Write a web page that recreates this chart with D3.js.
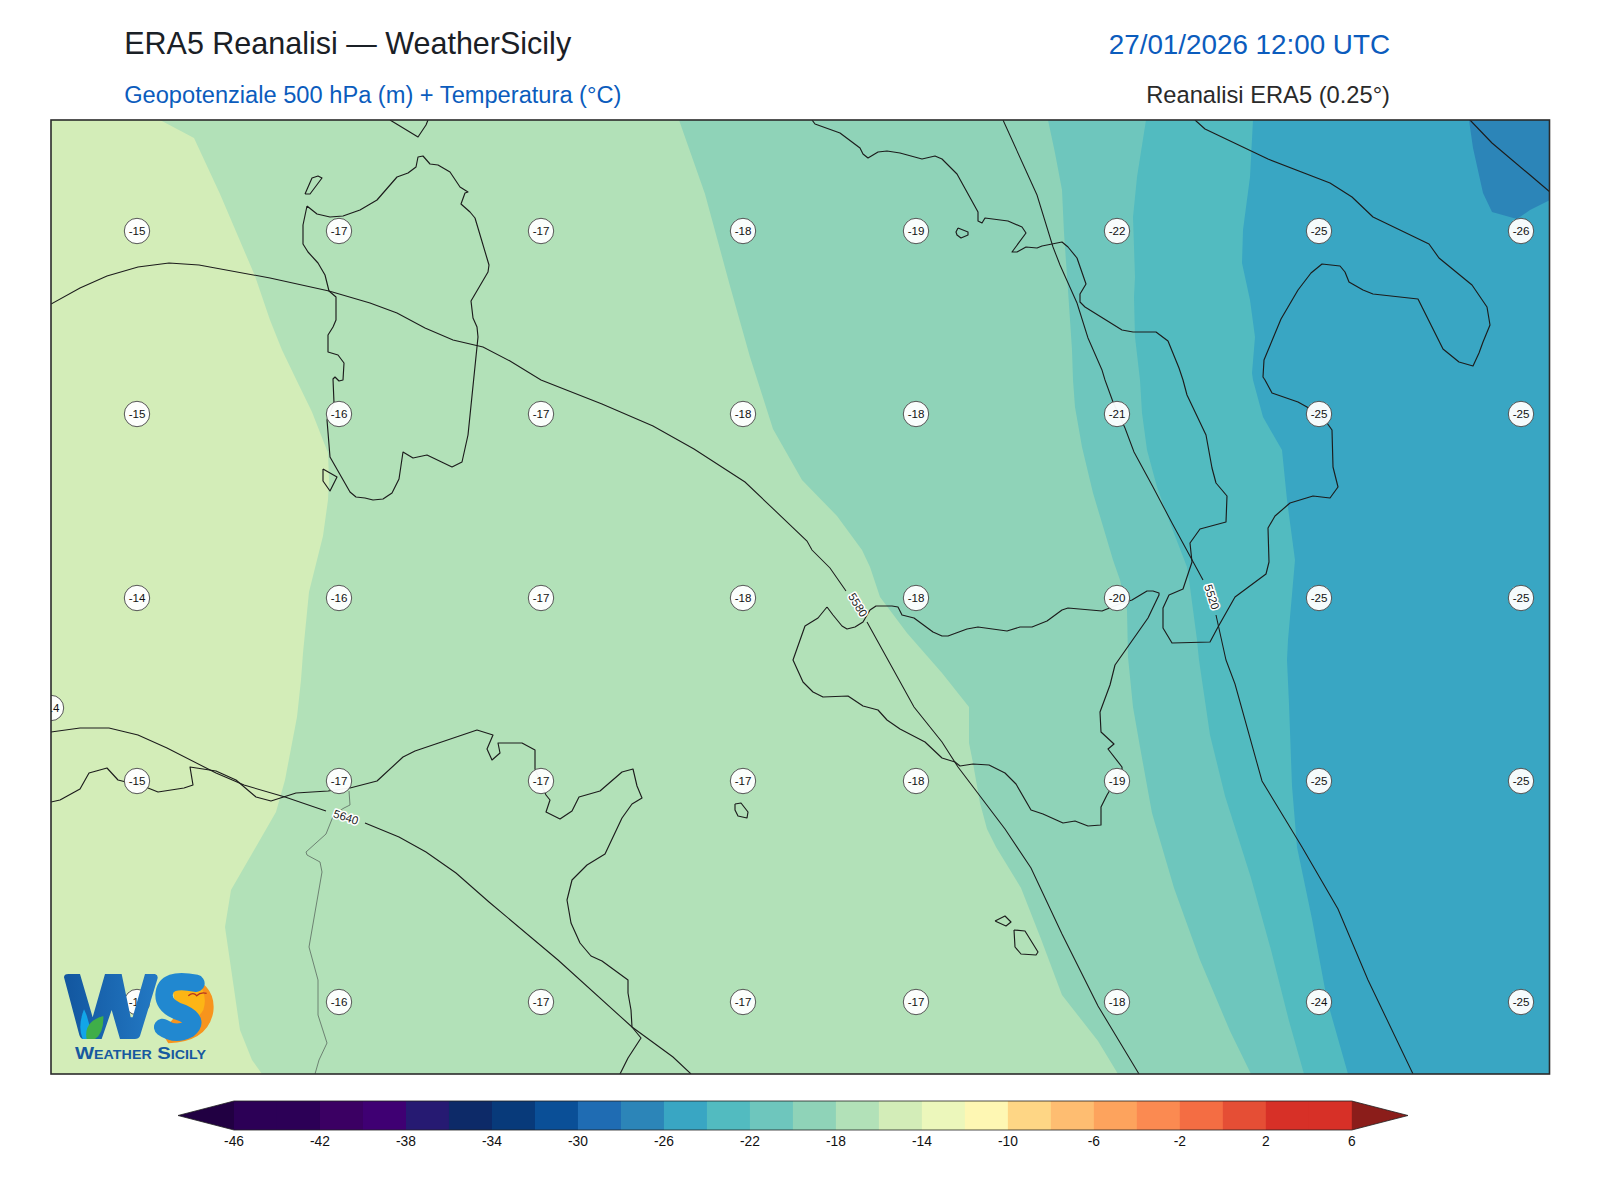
<!DOCTYPE html>
<html><head><meta charset="utf-8">
<script src="https://cdn.jsdelivr.net/npm/d3@7"></script>
<style>html,body{margin:0;background:#fff}svg{display:block}text{font-family:"Liberation Sans",Arial,sans-serif}</style>
</head><body><svg id="c" width="1600" height="1200"></svg>
<script>
// Colour levels
const levels = [-46,-44,-42,-40,-38,-36,-34,-32,-30,-28,-26,-24,-22,-20,-18,-16,-14,-12,-10,-8,-6,-4,-2,0,2,4,6];
const levelColors = ["#2c0056","#2c0056","#3b0063","#3f0073","#261a72","#0d2a68","#083a7a","#0a4f97","#1f6cb3","#2c85b8","#39a6c3","#52bbc0","#6ec6bd","#8fd3b8","#b2e1b8","#d3edb8","#ecf7bb","#fef7b3","#fed685","#febd71","#fda35d","#fb8a51","#f46d43","#e54e35","#d73027","#d73027"];
const colorTicks = [-46,-42,-38,-34,-30,-26,-22,-18,-14,-10,-6,-2,2,6];
// Isotherm band edges (west edge of each colder band)
const bandColors = ["#b2e1b8","#8fd3b8","#6ec6bd","#52bbc0","#39a6c3"];
const band16 = [[6.60,43.80],[6.94,43.62],[7.20,43.06],[7.55,42.24],[7.70,41.80],[7.82,41.50],[7.95,41.23],[8.12,40.88],[8.28,40.47],[8.29,40.20],[8.28,40.00],[8.23,39.64],[8.09,39.08],[8.03,38.47],[8.01,38.20],[7.97,37.83],[7.85,37.20],[7.76,36.88],[7.31,36.10],[7.25,35.73],[7.40,34.70],[7.52,34.40],[7.62,34.26]];
const band18 = [[11.79,43.80],[12.05,43.06],[12.30,42.14],[12.50,41.43],[12.73,40.71],[13.02,40.20],[13.37,39.84],[13.62,39.50],[13.70,39.33],[13.80,39.03],[14.07,38.67],[14.42,38.27],[14.69,37.93],[14.69,37.57],[14.73,37.37],[14.80,36.97],[14.87,36.71],[14.96,36.53],[15.21,36.12],[15.41,35.61],[15.62,35.05],[15.98,34.59],[16.18,34.26]];
const band20 = [[15.48,43.80],[15.55,43.47],[15.62,43.10],[15.64,42.67],[15.68,42.10],[15.72,41.50],[15.73,41.20],[15.75,40.93],[15.82,40.53],[15.93,40.07],[16.02,39.77],[16.13,39.40],[16.20,39.20],[16.27,38.90],[16.28,38.43],[16.33,37.93],[16.40,37.53],[16.52,36.87],[16.74,36.12],[17.00,35.40],[17.30,34.69],[17.51,34.26]];
const band22 = [[16.46,43.80],[16.37,43.23],[16.33,42.83],[16.35,42.23],[16.34,42.03],[16.35,41.63],[16.40,41.20],[16.42,40.87],[16.47,40.50],[16.57,40.13],[16.70,39.77],[16.87,39.33],[16.90,39.13],[16.97,38.60],[16.99,38.40],[17.10,37.65],[17.25,37.04],[17.51,36.22],[17.71,35.50],[17.89,34.79],[18.04,34.26]];
const band24 = [[17.53,43.80],[17.50,43.23],[17.43,42.70],[17.42,42.37],[17.50,42.00],[17.55,41.63],[17.52,41.27],[17.53,41.20],[17.63,40.83],[17.82,40.50],[17.87,40.00],[17.95,39.40],[17.88,38.60],[17.87,38.40],[17.89,37.96],[17.92,37.14],[17.97,36.53],[18.12,35.81],[18.27,35.00],[18.48,34.26]];
const band26 = [[19.69,43.80],[19.73,43.52],[19.83,43.07],[19.92,42.88],[20.17,42.81],[20.30,42.90],[20.50,43.00],[20.50,43.80]];
// Coastlines
const sardinia = [[8.07,42.94],[8.03,42.75],[8.03,42.56],[8.08,42.48],[8.18,42.37],[8.25,42.25],[8.29,42.09],[8.36,42.03],[8.36,41.80],[8.33,41.73],[8.28,41.65],[8.28,41.48],[8.38,41.45],[8.44,41.37],[8.43,41.20],[8.39,41.19],[8.35,41.23],[8.33,41.21],[8.34,40.97],[8.27,40.80],[8.30,40.43],[8.50,40.08],[8.56,40.03],[8.65,40.02],[8.73,40.00],[8.83,40.01],[8.92,40.07],[8.99,40.21],[9.03,40.48],[9.13,40.42],[9.27,40.45],[9.52,40.33],[9.62,40.38],[9.68,40.65],[9.78,41.63],[9.77,41.73],[9.73,41.82],[9.71,41.99],[9.88,42.28],[9.89,42.35],[9.75,42.82],[9.70,42.88],[9.61,42.96],[9.65,43.07],[9.68,43.08],[9.60,43.13],[9.50,43.28],[9.38,43.35],[9.30,43.36],[9.23,43.44],[9.18,43.43],[9.16,43.33],[9.08,43.27],[8.97,43.23],[8.77,43.00],[8.60,42.90],[8.43,42.84],[8.30,42.83],[8.17,42.86],[8.07,42.94]];
const asinara = [[8.05,43.06],[8.10,43.06],[8.22,43.22],[8.18,43.24],[8.12,43.22],[8.05,43.06]];
const antioco = [[8.23,40.31],[8.37,40.23],[8.30,40.09],[8.23,40.19],[8.23,40.31]];
const corsica = [[8.90,43.80],[9.18,43.63],[9.26,43.75],[9.28,43.80]];
const sicily = [[13.27,38.93],[13.33,38.85],[13.42,38.74],[13.47,38.71],[13.55,38.73],[13.63,38.78],[13.70,38.90],[13.76,38.94],[13.92,38.94],[13.98,38.93],[14.02,38.85],[14.14,38.82],[14.33,38.68],[14.42,38.64],[14.48,38.64],[14.67,38.71],[14.78,38.73],[15.07,38.69],[15.20,38.73],[15.32,38.73],[15.47,38.79],[15.62,38.90],[15.68,38.92],[16.02,38.89],[16.17,38.95],[16.32,39.00],[16.47,39.09],[16.53,39.09],[16.59,39.07],[16.59,39.05],[16.48,38.82],[16.15,38.35],[16.10,38.15],[16.00,37.88],[16.01,37.68],[16.14,37.56],[16.08,37.51],[16.22,37.33],[16.22,37.30],[16.07,37.05],[16.01,36.93],[16.01,36.75],[15.88,36.74],[15.75,36.79],[15.63,36.77],[15.43,36.86],[15.31,36.90],[15.16,37.16],[15.05,37.27],[14.89,37.35],[14.73,37.36],[14.60,37.34],[14.55,37.38],[14.42,37.42],[14.25,37.58],[14.00,37.71],[13.87,37.80],[13.78,37.90],[13.63,37.94],[13.48,38.04],[13.23,38.03],[13.13,38.08],[13.03,38.18],[12.93,38.40],[13.05,38.74],[13.18,38.82],[13.27,38.93]];
const italy = [[13.12,43.80],[13.15,43.76],[13.40,43.67],[13.60,43.52],[13.63,43.46],[13.68,43.42],[13.78,43.48],[13.87,43.49],[14.00,43.47],[14.22,43.41],[14.35,43.44],[14.42,43.41],[14.57,43.26],[14.78,42.88],[14.78,42.79],[14.82,42.77],[14.85,42.82],[15.08,42.79],[15.22,42.73],[15.26,42.67],[15.12,42.48],[15.17,42.48],[15.26,42.53],[15.37,42.52],[15.42,42.54],[15.62,42.58],[15.68,42.53],[15.77,42.42],[15.86,42.16],[15.80,42.06],[15.80,41.98],[15.85,41.93],[16.22,41.70],[16.33,41.68],[16.56,41.68],[16.68,41.59],[16.79,41.32],[16.83,41.20],[16.87,41.05],[17.06,40.65],[17.12,40.32],[17.16,40.17],[17.27,40.04],[17.26,39.78],[17.00,39.71],[16.90,39.57],[16.92,39.38],[16.83,39.11],[16.69,39.05],[16.63,38.92],[16.63,38.72],[16.72,38.57],[17.10,38.58],[17.18,38.73],[17.35,39.03],[17.66,39.26],[17.69,39.38],[17.68,39.72],[17.75,39.84],[17.90,39.97],[18.13,40.04],[18.30,40.02],[18.38,40.13],[18.33,40.33],[18.32,40.70],[18.27,40.77],[18.07,40.93],[17.98,40.98],[17.72,41.07],[17.65,41.20],[17.63,41.23],[17.64,41.40],[17.81,41.81],[17.98,42.10],[18.11,42.27],[18.22,42.36],[18.40,42.34],[18.45,42.28],[18.49,42.18],[18.63,42.10],[18.73,42.06],[19.18,42.01],[19.43,41.51],[19.59,41.38],[19.73,41.34],[19.79,41.47],[19.83,41.58],[19.90,41.75],[19.87,41.93],[19.72,42.15],[19.39,42.42],[19.29,42.56],[18.73,42.83],[18.52,43.03],[18.30,43.17],[17.68,43.41],[17.05,43.71],[16.95,43.80]];
const balkan = [[19.70,43.80],[19.92,43.57],[20.30,43.25],[20.50,43.08]];
const ustica = [[14.58,42.72],[14.68,42.68],[14.68,42.65],[14.61,42.62],[14.57,42.65],[14.56,42.68],[14.58,42.72]];
const africa = [[5.51,36.98],[5.60,37.00],[5.80,37.11],[5.89,37.27],[6.07,37.32],[6.18,37.20],[6.26,37.18],[6.48,37.12],[6.58,37.08],[6.84,37.12],[6.93,37.15],[6.90,37.33],[7.16,37.29],[7.36,37.20],[7.56,37.03],[7.71,36.99],[7.96,37.07],[8.28,37.09],[8.50,37.12],[8.77,37.19],[9.03,37.43],[9.15,37.49],[9.77,37.70],[9.93,37.65],[9.87,37.51],[9.92,37.40],[10.00,37.47],[9.98,37.57],[10.22,37.57],[10.35,37.50],[10.35,37.31],[10.46,37.05],[10.50,37.00],[10.46,36.88],[10.60,36.81],[10.72,36.89],[10.79,37.03],[11.00,37.09],[11.22,37.28],[11.33,37.31],[11.37,37.14],[11.42,37.02],[11.32,36.96],[11.22,36.82],[11.05,36.46],[10.87,36.35],[10.72,36.20],[10.67,36.00],[10.71,35.77],[10.80,35.57],[10.91,35.44],[11.02,35.39],[11.28,35.20],[11.28,35.07],[11.31,34.90],[11.32,34.73],[11.41,34.62],[11.28,34.42],[11.20,34.26]];
const pantelleria = [[12.35,36.96],[12.41,36.97],[12.48,36.88],[12.47,36.82],[12.38,36.84],[12.35,36.90],[12.35,36.96]];
const malta = [[15.14,35.70],[15.25,35.69],[15.38,35.48],[15.36,35.45],[15.21,35.46],[15.15,35.53],[15.14,35.70]];
const gozo = [[14.95,35.79],[15.05,35.84],[15.11,35.78],[15.06,35.74],[14.95,35.79]];
const border = [[8.49,37.09],[8.50,36.95],[8.44,36.92],[8.34,36.86],[8.26,36.66],[8.06,36.48],[8.07,36.45],[8.20,36.38],[8.22,36.28],[8.09,35.53],[8.18,35.20],[8.18,34.85],[8.27,34.57],[8.19,34.40],[8.15,34.26]];
// Geopotential height isolines
const z5640 = [[5.51,37.68],[5.80,37.72],[6.09,37.72],[6.38,37.65],[6.67,37.52],[7.16,37.27],[7.44,37.15],[7.85,37.03],[8.26,36.89],null,[8.65,36.77],[8.99,36.63],[9.26,36.48],[9.56,36.27],[9.89,35.98],[10.58,35.40],[11.32,34.73],[11.73,34.43],[11.91,34.26]];
const z5580 = [[5.51,41.96],[5.80,42.12],[6.07,42.24],[6.38,42.33],[6.69,42.37],[6.99,42.35],[7.70,42.22],[8.29,42.09],[8.70,41.97],[8.97,41.87],[9.25,41.72],[9.53,41.60],[9.83,41.53],[10.10,41.39],[10.41,41.20],[11.02,40.96],[11.53,40.74],[11.94,40.51],[12.45,40.18],[13.07,39.59],[13.12,39.50],[13.30,39.32],[13.46,39.09],null,[13.67,38.78],[14.14,37.93],[14.42,37.58],[14.58,37.33],[15.05,36.71],[15.31,36.32],[15.62,35.66],[15.98,34.94],[16.39,34.26]];
const z5520 = [[15.03,43.80],[15.37,43.05],[15.53,42.53],[15.60,42.35],[15.77,41.97],[15.88,41.62],[16.02,41.30],[16.05,41.20],[16.13,40.98],[16.25,40.72],[16.34,40.48],[16.53,40.13],[16.72,39.77],[17.03,39.20],null,[17.16,38.85],[17.26,38.40],[17.35,38.16],[17.62,37.19],[18.02,36.53],[18.38,35.91],[18.68,35.20],[19.13,34.26]];
const zLabels = [["5640",8.46,36.83,18],["5580",13.58,38.95,58],["5520",17.12,39.03,72]];
// Temperature samples
const tempLons = [6.37,8.39,10.41,12.43,14.16,16.17,18.19,20.21];
const tempLats = [42.69,40.86,39.02,37.19,34.98];
const tempRow1 = [-15,-17,-17,-18,-19,-22,-25,-26];
const tempRow2 = [-15,-16,-17,-18,-18,-21,-25,-25];
const tempRow3 = [-14,-16,-17,-18,-18,-20,-25,-25];
const tempRow4 = [-15,-17,-17,-17,-18,-19,-25,-25];
const tempRow5 = [-15,-16,-17,-17,-17,-18,-24,-25];
const tempExtra = [[5.51,37.92,-14]];

const svg = d3.select("#c");
const F = {l:51,r:1549.5,t:120,b:1074};
const lonMin=5.51, lonMax=20.495, latMax=43.80, latMin=34.26;
const x = d3.scaleLinear([lonMin,lonMax],[F.l,F.r]);
const y = d3.scaleLinear([latMax,latMin],[F.t,F.b]);
const line = d3.line().defined(d=>d).x(d=>x(d[0])).y(d=>y(d[1]));

svg.append("defs").append("clipPath").attr("id","map").append("rect")
  .attr("x",F.l).attr("y",F.t).attr("width",F.r-F.l).attr("height",F.b-F.t);
const map = svg.append("g").attr("clip-path","url(#map)");
map.append("rect").attr("x",F.l).attr("y",F.t).attr("width",F.r-F.l).attr("height",F.b-F.t).attr("fill","#d3edb8");
[band16,band18,band20,band22,band24].forEach((b,i)=>{
  map.append("path").attr("d",line([...b,[lonMax+.1,latMin],[lonMax+.1,latMax]])+"Z").attr("fill",bandColors[i]);
});
map.append("path").attr("d",line(band26)+"Z").attr("fill","#2c85b8");

map.append("path").attr("d",line(border)).attr("fill","none").attr("stroke","#5a6a60").attr("stroke-width",0.8);
[sardinia,asinara,antioco,corsica,sicily,italy,balkan,ustica,africa,pantelleria,malta,gozo].forEach(c=>{
  map.append("path").attr("d",line(c)).attr("fill","none").attr("stroke","#1c1c1c").attr("stroke-width",1.15).attr("stroke-linejoin","round");
});
[z5640,z5580,z5520].forEach(z=>{
  map.append("path").attr("d",line(z)).attr("fill","none").attr("stroke","#1c1c1c").attr("stroke-width",1.05);
});
zLabels.forEach(([t,lo,la,r])=>{
  map.append("text").attr("transform",`translate(${x(lo)},${y(la)}) rotate(${r})`)
    .attr("text-anchor","middle").attr("dy","0.36em").attr("font-size",11.5).attr("fill","#222")
    .attr("stroke","#fff").attr("stroke-width",3).attr("paint-order","stroke").attr("stroke-linejoin","round").text(t);
});
const temps = [];
[tempRow1,tempRow2,tempRow3,tempRow4,tempRow5].forEach((row,j)=>row.forEach((v,i)=>temps.push([tempLons[i],tempLats[j],v])));
temps.concat(tempExtra).forEach(([lo,la,v])=>{
  const g = map.append("g").attr("transform",`translate(${x(lo)},${y(la)})`);
  g.append("circle").attr("r",12.7).attr("fill","#fff").attr("fill-opacity",.95).attr("stroke","#444").attr("stroke-width",.9);
  g.append("text").attr("text-anchor","middle").attr("dy","0.36em").attr("font-size",11.6).attr("fill","#111").text(v);
});

// Frame
svg.append("rect").attr("x",F.l).attr("y",F.t).attr("width",F.r-F.l).attr("height",F.b-F.t)
  .attr("fill","none").attr("stroke","#2b2b2b").attr("stroke-width",1.6);

// Titles
const title=(t,xx,yy,s,c,a)=>svg.append("text").attr("x",xx).attr("y",yy).attr("font-size",s).attr("fill",c).attr("text-anchor",a||"start").text(t);
title("ERA5 Reanalisi — WeatherSicily",124.2,54,30.5,"#1a2026");
title("27/01/2026 12:00 UTC",1390,54,27.8,"#0b5cbd","end");
title("Geopotenziale 500 hPa (m) + Temperatura (°C)",124.2,103,23.65,"#0b5cbd");
title("Reanalisi ERA5 (0.25°)",1390,103,23.7,"#2a2a2a","end");

// Colour bar
const cx = d3.scaleLinear([-46,6],[234,1351.8]);
const cb = svg.append("g");
const cT=1101, cB=1130;
levelColors.forEach((c,i)=>{
  cb.append("rect").attr("x",cx(levels[i])).attr("y",cT).attr("width",cx(levels[i+1])-cx(levels[i])+.5).attr("height",cB-cT).attr("fill",c);
});
cb.append("path").attr("d",`M${cx(-46)},${cT}L178,${(cT+cB)/2}L${cx(-46)},${cB}Z`).attr("fill","#210042");
cb.append("path").attr("d",`M${cx(6)},${cT}L1408,${(cT+cB)/2}L${cx(6)},${cB}Z`).attr("fill","#8b1d1a");
cb.append("path").attr("d",`M${cx(-46)},${cT}L178,${(cT+cB)/2}L${cx(-46)},${cB}L${cx(6)},${cB}L1408,${(cT+cB)/2}L${cx(6)},${cT}Z`).attr("fill","none").attr("stroke","#222").attr("stroke-width",.8);
const ax = svg.append("g").attr("transform",`translate(0,${cB})`).call(d3.axisBottom(cx).tickValues(colorTicks).tickSize(0).tickPadding(6).offset(0).tickFormat(d=>String(d)));
ax.select(".domain").remove();
ax.selectAll("text").attr("font-size",13.8).attr("fill","#111").style("font-family",'"Liberation Sans",Arial,sans-serif');

// Logo
const lg = svg.append("g").attr("transform","translate(40,930) scale(0.3333)");
const defs = svg.select("defs");
const gr = defs.append("linearGradient").attr("id","wg").attr("x1",0).attr("x2",1).attr("y1",0).attr("y2",0);
gr.append("stop").attr("offset",0).attr("stop-color","#12569f");
gr.append("stop").attr("offset",1).attr("stop-color","#2379c4");
lg.append("path").attr("d","M436,132 Q530,165 520,245 Q505,335 385,340 L360,300 Q440,250 410,180 Z").attr("fill","#f7941d");
lg.append("path").attr("d","M400,182 Q420,160 470,150 Q505,195 490,240 Q470,275 440,255 Q395,215 400,182 Z").attr("fill","#fdb515");
lg.append("path").attr("d","M72,142 Q72,132 85,132 L120,132 L158,262 L195,132 L245,132 L272,262 L278,262 L315,132 L345,132 Q356,135 352,148 L300,318 Q296,327 285,327 L240,327 L215,240 L185,327 L130,327 Q122,327 118,315 Z").attr("fill","url(#wg)");
lg.append("path").attr("d","M132,238 Q155,285 150,327 L128,327 Q112,290 132,238 Z").attr("fill","#12a5e8");
lg.append("path").attr("d","M190,258 Q192,310 165,327 L140,327 Q130,275 190,258 Z").attr("fill","#3fae49");
lg.append("path").attr("d","M468,160 Q375,140 372,195 Q372,232 430,250 Q478,272 445,298 Q405,318 368,292").attr("fill","none").attr("stroke","#2188d0").attr("stroke-width",52).attr("stroke-linecap","round");
lg.append("path").attr("d","M445,197 Q460,185 470,197 Q482,185 500,190").attr("fill","none").attr("stroke","#b5341f").attr("stroke-width",4);
svg.append("text").attr("x",75).attr("y",1059).attr("font-size",17).attr("font-weight","bold").attr("fill","#17599f")
  .style("font-variant","small-caps").attr("textLength",131).attr("lengthAdjust","spacingAndGlyphs").text("Weather Sicily");
</script></body></html>
